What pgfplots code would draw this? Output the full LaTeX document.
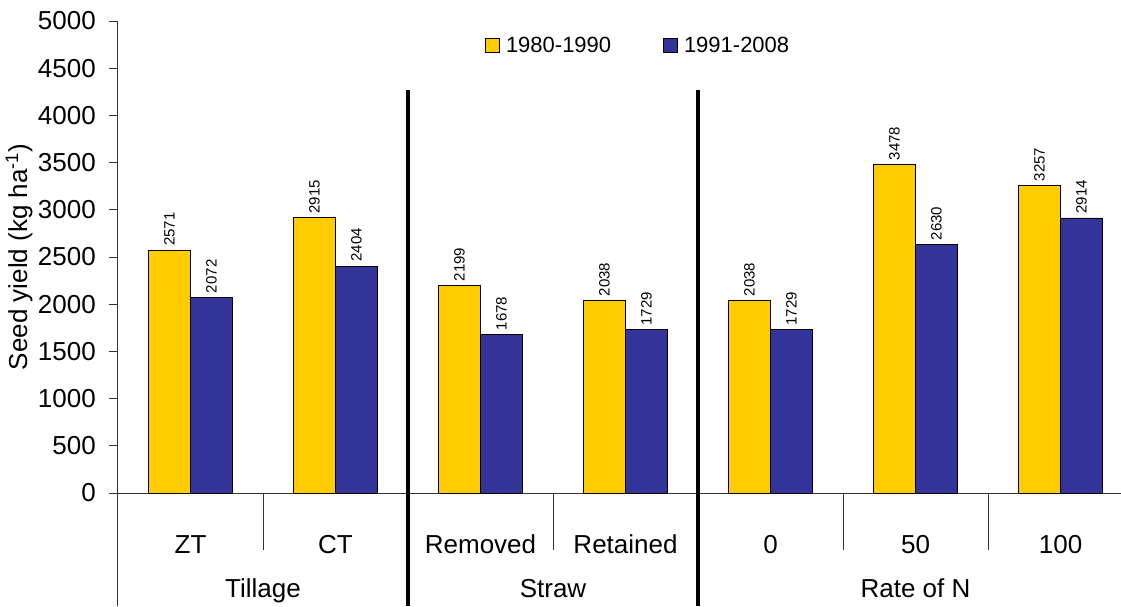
\documentclass[border=0pt]{standalone}
\usepackage{fontspec}
\setmainfont{Liberation Sans}
\usepackage{pgfplots}
\pgfplotsset{compat=1.18}
\definecolor{cyel}{HTML}{FFCC00}
\definecolor{cblu}{HTML}{333399}
\begin{document}
\begin{tikzpicture}
\path[use as bounding box] (-118pt,-113pt) rectangle (1003pt,493pt);
\begin{axis}[
  at={(0pt,0pt)}, anchor=south west,
  scale only axis, width=1003pt, height=472pt,
  xmin=-0.5, xmax=6.417, ymin=0, ymax=5000,
  clip=false,
  axis lines=left, axis line style={-, line width=1pt, black!80},
  ybar=0pt, bar width=42pt,
  xtick={0,...,6}, xticklabels={ZT,CT,Removed,Retained,0,50,100},
  xtick style={draw=none},
  ytick={0,500,...,5000},
  tick align=outside, major tick length=9pt,
  ytick style={line width=1pt, black!80},
  /pgf/number format/assume math mode=true,
  /pgf/number format/1000 sep={},
  tick label style={font=\fontsize{26}{30}\selectfont},
  yticklabel style={anchor=east, inner sep=0pt, xshift=-13pt},
  xticklabel style={anchor=base, inner sep=0pt, yshift=-51pt},
  ylabel={Seed yield (kg ha\textsuperscript{-1})},
  every axis y label/.style={at={(axis description cs:-0.0987,0.5)}, rotate=90, anchor=center, font=\fontsize{26}{30}\selectfont},
  legend columns=2,
  legend style={at={(axis description cs:0.3659,0.949)}, anchor=west, draw=none, fill=none,
    font=\fontsize{22}{26}\selectfont, inner sep=0pt,
    /tikz/every even column/.append style={column sep=50pt}},
  legend image code/.code={\draw[#1, line width=0.8pt] (0pt,-7pt) rectangle (14pt,7pt); \path (18pt,0pt);},
  nodes near coords,
  every node near coord/.append style={rotate=90, anchor=west, text=black, font=\fontsize{15}{18}\selectfont, inner sep=4pt},
]
\addplot[fill=cyel, draw=black, line width=0.8pt] coordinates {(0,2571) (1,2915) (2,2199) (3,2038) (4,2038) (5,3478) (6,3257)};
\addplot[fill=cblu, draw=black, line width=0.8pt] coordinates {(0,2072) (1,2404) (2,1678) (3,1729) (4,1729) (5,2630) (6,2914)};
\legend{1980-1990,1991-2008}
\draw[line width=4pt] (axis cs:1.5,4269) -- (axis cs:1.5,-1197);
\draw[line width=4pt] (axis cs:3.5,4269) -- (axis cs:3.5,-1197);
\draw[line width=1pt, black!80] (axis cs:-0.5,0) -- (axis cs:-0.5,-1197);
\draw[line width=1pt, black!80] (axis cs:0.5,0) -- (axis cs:0.5,-604);
\draw[line width=1pt, black!80] (axis cs:2.5,0) -- (axis cs:2.5,-604);
\draw[line width=1pt, black!80] (axis cs:4.5,0) -- (axis cs:4.5,-604);
\draw[line width=1pt, black!80] (axis cs:5.5,0) -- (axis cs:5.5,-604);
\node[anchor=base, font=\fontsize{26}{30}\selectfont] at (axis cs:0.5,-1112) {Tillage};
\node[anchor=base, font=\fontsize{26}{30}\selectfont] at (axis cs:2.5,-1112) {Straw};
\node[anchor=base, font=\fontsize{26}{30}\selectfont] at (axis cs:5,-1112) {Rate of N};
\end{axis}
\end{tikzpicture}
\end{document}
